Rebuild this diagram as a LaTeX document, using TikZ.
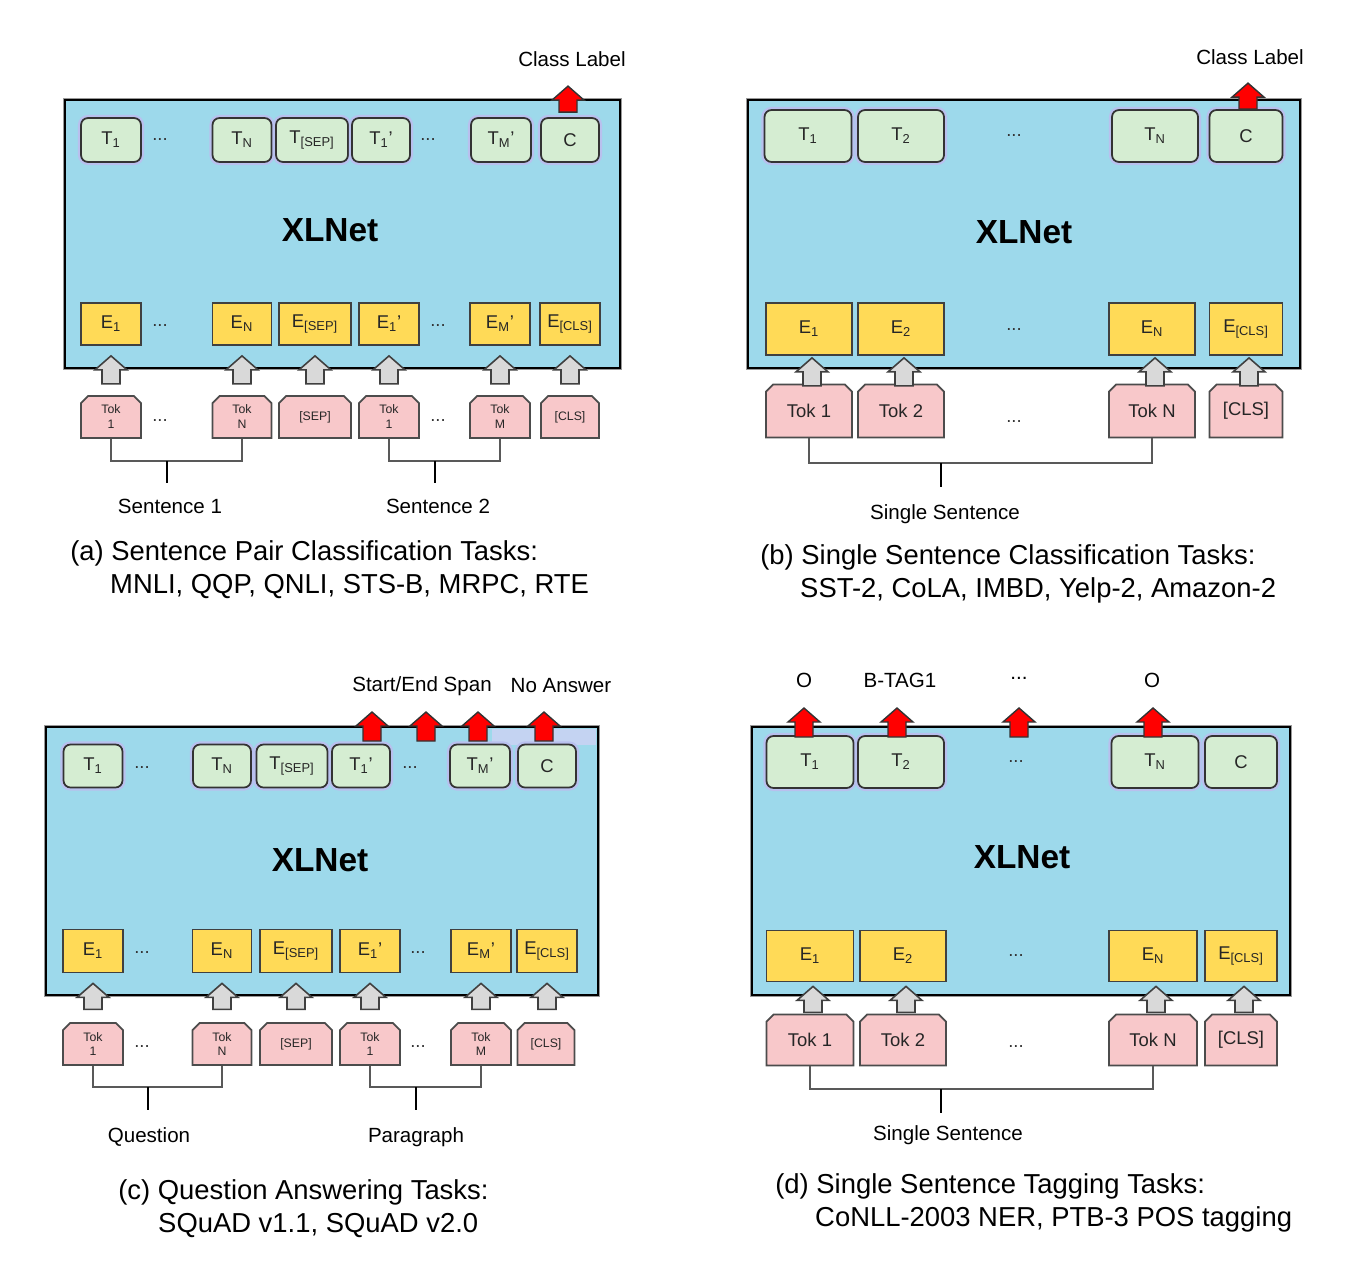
\documentclass[tikz,border=0pt]{standalone}
\usepackage{fontspec}
\setmainfont{Liberation Sans}
\usepackage{xcolor}
\definecolor{netblue}{HTML}{9DD9EB}
\definecolor{outgreen}{HTML}{D5EDD2}
\definecolor{embyellow}{HTML}{FFDA57}
\definecolor{tokpink}{HTML}{F8C8CA}
\definecolor{halo}{HTML}{B9C0EE}
\definecolor{arrowgray}{HTML}{D9D9D9}
\definecolor{patchblue}{HTML}{C4D3F2}
\usepackage{tikz}
\usetikzlibrary{shapes.misc, calc}
\newdimen\pxu \pxu=0.02cm
% block arrow pointing up: style, tip, length (px)
\newcommand{\blockup}[3]{\draw[#1] (#2) -- ++(16,14) -- ++(-7,0) -- ++(0,{#3-14}) -- ++(-18,0) -- ++(0,{14-#3}) -- ++(-7,0) -- cycle}

\begin{document}
\begin{tikzpicture}[
      x=0.02cm, y=-0.02cm,
      font=\fontsize{10.5}{12}\selectfont,
      net/.style={rectangle, draw=black, line width=1.4pt, fill=netblue,
                  preaction={draw=black!40, line width=2.6pt}, inner sep=0pt},
      outbox/.style={rectangle, rounded corners=4pt, draw=black!80, line width=1pt, fill=outgreen,
                     preaction={draw=halo, line width=3.5pt}, inner sep=1pt, text=black!85},
      embbox/.style={rectangle, draw=black!75, line width=1pt, fill=embyellow, inner sep=1pt, text=black!85},
      tokbox/.style={chamfered rectangle, chamfered rectangle corners={north west,north east},
                     chamfered rectangle xsep=2pt, chamfered rectangle ysep=2pt,
                     draw=black!70, line width=1pt, fill=tokpink, inner sep=1pt, align=center, text=black!85},
      tinytok/.style={font=\fontsize{7}{8.5}\selectfont},
      netlbl/.style={font=\fontsize{19}{22}\selectfont\bfseries},
      lbl/.style={font=\fontsize{11.7}{14}\selectfont, inner sep=1pt},
      captxt/.style={font=\fontsize{15.6}{18.7}\selectfont, align=left, anchor=west, inner sep=0pt},
      dotlbl/.style={text=black!80, inner sep=0pt},
      brk/.style={draw=black!65, line width=1.1pt},
      stem/.style={draw=black, line width=1.2pt},
      uparr/.style={draw=black!75, line width=0.9pt, fill=arrowgray},
      outarr/.style={draw=black!80, line width=0.8pt, fill=red},
    ]
    \useasboundingbox (0,0) rectangle (1352,1274);

    % (a) sentence pair classification
    \node[net, minimum width=555*\pxu, minimum height=268*\pxu] (a-net) at (342.5,234) {};
    \node[netlbl] (a-xl) at (330,230) {XLNet};
    \foreach \n/\cx/\w/\t in {1/111/60/{T\textsubscript{1}}, n/242/59/{T\textsubscript{N}}, sep/312/72/{T\textsubscript{[SEP]}},
        1p/381/58/{T\textsubscript{1}'}, mp/501/60/{T\textsubscript{M}'}, c/570/58/C}
      \node[outbox, minimum width=\w*\pxu, minimum height=44*\pxu] (a-t\n) at (\cx,140) {\t};
    \foreach \n/\cx/\w/\t in {1/111/60/{E\textsubscript{1}}, n/242/59/{E\textsubscript{N}}, sep/315/72/{E\textsubscript{[SEP]}},
        1p/389/60/{E\textsubscript{1}'}, mp/500/60/{E\textsubscript{M}'}, cls/570/60/{E\textsubscript{[CLS]}}}
      \node[embbox, minimum width=\w*\pxu, minimum height=42*\pxu] (a-e\n) at (\cx,324) {\t};
    \foreach \n/\cx/\w/\t in {1/111/60/{Tok\\1}, n/242/59/{Tok\\N}, sep/315/72/{[SEP]},
        1p/389/60/{Tok\\1}, mp/500/60/{Tok\\M}, cls/570/58/{[CLS]}}
      \node[tokbox, tinytok, minimum width=\w*\pxu, minimum height=42*\pxu] (a-k\n) at (\cx,417) {\t};
    \foreach \nm/\x/\y in {tdl/160/140, tdr/428/140, edl/160/326, edr/438/326, kdl/160/421, kdr/438/421}
      \node[dotlbl] (a-\nm) at (\x,\y) {...};
    \foreach \n in {1,n,sep,1p,mp,cls}
      {\blockup{uparr}{$(a-e\n.south)+(0,10)$}{28};}
    \coordinate (a-j1) at (167,461);
    \coordinate (a-j2) at (435,461);
    \draw[brk] (a-k1.south) |- (a-j1) -| (a-kn.south);
    \draw[brk] (a-k1p.south) |- (a-j2) -| (a-kmp.south);
    \draw[stem] (a-j1) -- ++(0,22);
    \draw[stem] (a-j2) -- ++(0,22);
    \node[lbl] (a-s1) at (170,506) {Sentence 1};
    \node[lbl] (a-s2) at (438,506) {Sentence 2};
    \blockup{outarr}{$(a-tc.north)+(-2,-31)$}{26};
    \node[lbl] (a-cl) at (572,59) {Class Label};
    \node[captxt] (a-cap) at (70,569.5) {(a) Sentence Pair Classification Tasks:\\\hspace*{22.7pt}MNLI, QQP, QNLI, STS-B, MRPC, RTE};

    % (b) single sentence classification
    \node[net, minimum width=552*\pxu, minimum height=268*\pxu] (b-net) at (1024,234) {};
    \node[netlbl] (b-xl) at (1024,232) {XLNet};
    \foreach \n/\cx/\w/\t in {1/808/87/{T\textsubscript{1}}, 2/901/86/{T\textsubscript{2}}, n/1155/86/{T\textsubscript{N}}, c/1246/73/C}
      \node[outbox, minimum width=\w*\pxu, minimum height=52*\pxu] (b-t\n) at (\cx,136) {\t};
    \foreach \n/\cx/\w/\t in {1/809/86/{E\textsubscript{1}}, 2/901/86/{E\textsubscript{2}}, n/1152/86/{E\textsubscript{N}}, cls/1246/73/{E\textsubscript{[CLS]}}}
      \node[embbox, minimum width=\w*\pxu, minimum height=52*\pxu] (b-e\n) at (\cx,329) {\t};
    \foreach \n/\cx/\w/\t in {1/809/86/{Tok 1}, 2/901/86/{Tok 2}, n/1152/86/{Tok N}, cls/1246/73/{[CLS]}}
      \node[tokbox, minimum width=\w*\pxu, minimum height=53*\pxu] (b-k\n) at (\cx,411) {\t};
    \foreach \nm/\y in {td/136, ed/330, kd/422}
      \node[dotlbl] (b-\nm) at (1014,\y) {...};
    \foreach \n in {1,2,n,cls}
      {\blockup{uparr}{$(b-e\n.south)+(3,2)$}{28};}
    \coordinate (b-j) at (941,463);
    \draw[brk] (b-k1.south) |- (b-j) -| (b-kn.south);
    \draw[stem] (b-j) -- ++(0,24);
    \node[lbl] (b-ss) at (945,514) {Single Sentence};
    \blockup{outarr}{$(b-tc.north)+(2,-26)$}{26};
    \node[lbl] (b-cl) at (1250,57) {Class Label};
    \node[captxt] (b-cap) at (760,573.5) {(b) Single Sentence Classification Tasks:\\\hspace*{22.7pt}SST-2, CoLA, IMBD, Yelp-2, Amazon-2};

    % (c) question answering
    \node[net, minimum width=552*\pxu, minimum height=268*\pxu] (c-net) at (322,861) {};
    \fill[patchblue] (492,729) rectangle (596,745);
    \node[netlbl] (c-xl) at (320,860) {XLNet};
    \foreach \n/\cx/\w/\t in {1/93/59/{T\textsubscript{1}}, n/222/58/{T\textsubscript{N}}, sep/292/71/{T\textsubscript{[SEP]}},
        1p/361/58/{T\textsubscript{1}'}, mp/480/60/{T\textsubscript{M}'}, c/547/58/C}
      \node[outbox, minimum width=\w*\pxu, minimum height=43*\pxu] (c-t\n) at (\cx,766) {\t};
    \foreach \n/\cx/\w/\t in {1/93/60/{E\textsubscript{1}}, n/222/59/{E\textsubscript{N}}, sep/296/72/{E\textsubscript{[SEP]}},
        1p/370/60/{E\textsubscript{1}'}, mp/481/60/{E\textsubscript{M}'}, cls/547/60/{E\textsubscript{[CLS]}}}
      \node[embbox, minimum width=\w*\pxu, minimum height=43*\pxu] (c-e\n) at (\cx,951) {\t};
    \foreach \n/\cx/\w/\t in {1/93/60/{Tok\\1}, n/222/59/{Tok\\N}, sep/296/72/{[SEP]},
        1p/370/60/{Tok\\1}, mp/481/60/{Tok\\M}, cls/546/57/{[CLS]}}
      \node[tokbox, tinytok, minimum width=\w*\pxu, minimum height=42*\pxu] (c-k\n) at (\cx,1044) {\t};
    \foreach \nm/\x/\y in {tdl/142/768, tdr/410/768, edl/142/953, edr/418/953, kdl/142/1047, kdr/418/1047}
      \node[dotlbl] (c-\nm) at (\x,\y) {...};
    \foreach \n in {1,n,sep,1p,mp,cls}
      {\blockup{uparr}{$(c-e\n.south)+(0,10)$}{26};}
    \coordinate (c-j1) at (148,1087);
    \coordinate (c-j2) at (416,1087);
    \draw[brk] (c-k1.south) |- (c-j1) -| (c-kn.south);
    \draw[brk] (c-k1p.south) |- (c-j2) -| (c-kmp.south);
    \draw[stem] (c-j1) -- ++(0,23);
    \draw[stem] (c-j2) -- ++(0,23);
    \node[lbl] (c-q) at (149,1137) {Question};
    \node[lbl] (c-p) at (416,1137) {Paragraph};
    \foreach \x in {372,426,478,544}
      {\blockup{outarr}{\x,712}{29};}
    \node[lbl] (c-se) at (422,686) {Start/End Span};
    \node[lbl] (c-na) at (561,686) {No Answer};
    \node[captxt] (c-cap) at (118,1209) {(c) Question Answering Tasks:\\\hspace*{22.7pt}SQuAD v1.1, SQuAD v2.0};

    % (d) single sentence tagging
    \node[net, minimum width=538*\pxu, minimum height=268*\pxu] (d-net) at (1021,861) {};
    \node[netlbl] (d-xl) at (1022,857) {XLNet};
    \foreach \n/\cx/\w/\t in {1/810/87/{T\textsubscript{1}}, 2/901/86/{T\textsubscript{2}}, n/1155/87/{T\textsubscript{N}}, c/1241/72/C}
      \node[outbox, minimum width=\w*\pxu, minimum height=52*\pxu] (d-t\n) at (\cx,762) {\t};
    \foreach \n/\cx/\w/\t in {1/810/87/{E\textsubscript{1}}, 2/903/86/{E\textsubscript{2}}, n/1153/88/{E\textsubscript{N}}, cls/1241/72/{E\textsubscript{[CLS]}}}
      \node[embbox, minimum width=\w*\pxu, minimum height=51*\pxu] (d-e\n) at (\cx,956) {\t};
    \foreach \n/\cx/\w/\t in {1/810/87/{Tok 1}, 2/903/86/{Tok 2}, n/1153/88/{Tok N}, cls/1241/72/{[CLS]}}
      \node[tokbox, minimum width=\w*\pxu, minimum height=51*\pxu] (d-k\n) at (\cx,1040) {\t};
    \foreach \nm/\y in {td/762, ed/956, kd/1047}
      \node[dotlbl] (d-\nm) at (1016,\y) {...};
    \foreach \n in {1,2,n,cls}
      {\blockup{uparr}{$(d-e\n.south)+(3,4)$}{26};}
    \coordinate (d-j) at (941,1089);
    \draw[brk] (d-k1.south) |- (d-j) -| (d-kn.south);
    \draw[stem] (d-j) -- ++(0,24);
    \node[lbl] (d-ss) at (948,1135) {Single Sentence};
    \foreach \x in {804,897,1019,1153}
      {\blockup{outarr}{\x,708}{29};}
    \node[lbl] (d-o1) at (804,680) {O};
    \node[lbl] (d-bt) at (900,680) {B-TAG1};
    \node[lbl] (d-od) at (1019,678) {...};
    \node[lbl] (d-o2) at (1152,680) {O};
    \node[captxt] (d-cap) at (775,1203) {(d) Single Sentence Tagging Tasks:\\\hspace*{22.7pt}CoNLL-2003 NER, PTB-3 POS tagging};
  \end{tikzpicture}
\end{document}
